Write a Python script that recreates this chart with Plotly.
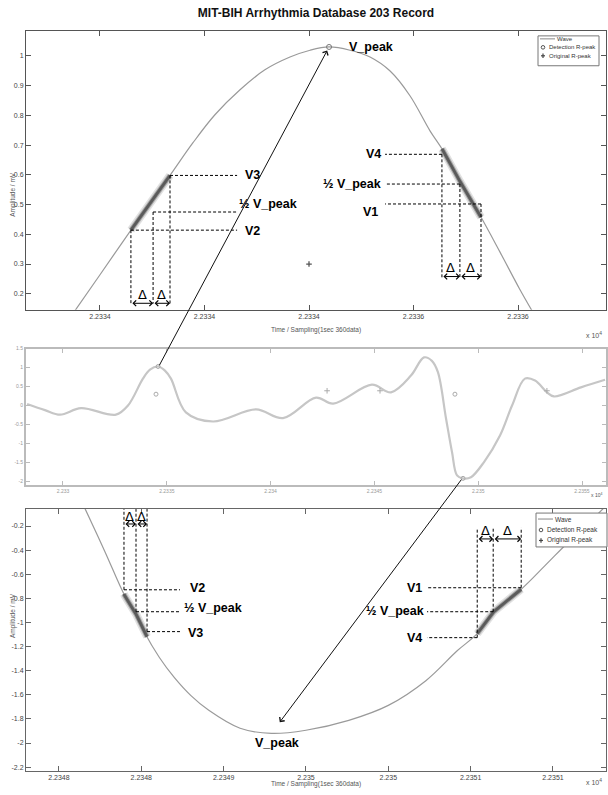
import numpy as np
import plotly.graph_objects as go

W, H = 608, 795

# ---------------- data ----------------
# Zoomed view of the positive R peak (samples, mV)
top_t = [22333.380, 22333.500, 22333.648, 22333.739, 22333.835, 22333.945, 22334.050,
         22334.170, 22334.289, 22334.409, 22334.505, 22334.596, 22334.696, 22334.792,
         22334.888, 22334.983, 22335.079, 22335.141, 22335.222, 22335.318, 22335.414,
         22335.507, 22335.567]
top_v = [0.143, 0.264, 0.414, 0.504, 0.598, 0.708, 0.802, 0.886, 0.953, 0.996, 1.019,
         1.030, 1.019, 0.996, 0.949, 0.866, 0.748, 0.682, 0.578, 0.464, 0.340, 0.217, 0.143]

# Overview of the record segment
mid_t = [22328.27, 22329.13, 22329.86, 22330.87, 22332.55, 22333.13, 22333.85, 22334.19,
         22334.58, 22334.91, 22335.20, 22335.92, 22337.23, 22339.30, 22340.60, 22342.19,
         22343.01, 22344.88, 22345.80, 22346.76, 22347.39, 22347.77, 22348.06, 22348.45,
         22348.74, 22348.98, 22349.27, 22349.65, 22350.28, 22351.05, 22351.63, 22352.25,
         22352.74, 22353.31, 22353.65, 22354.95, 22356.11]
mid_v = [0.04, -0.12, -0.24, -0.07, -0.24, 0.00, 0.71, 0.95, 1.03, 0.92, 0.71, -0.18,
         -0.42, -0.10, -0.33, 0.21, 0.05, 0.55, 0.35, 0.79, 1.27, 1.18, 0.88, -0.34,
         -1.23, -1.84, -1.92, -1.89, -1.49, -0.79, 0.00, 0.71, 0.66, 0.35, 0.24, 0.48, 0.68]

# Zoomed view of the negative R peak
bot_t = [22348.11, 22348.16, 22348.28, 22348.40, 22348.47, 22348.52, 22348.61, 22348.70,
         22348.80, 22348.91, 22349.10, 22349.29, 22349.50, 22349.76, 22350.00, 22350.23,
         22350.42, 22350.54, 22350.64, 22350.81, 22350.95, 22351.10, 22351.26, 22351.38]
bot_v = [0.089, -0.060, -0.415, -0.779, -0.936, -1.084, -1.291, -1.456, -1.605, -1.729,
         -1.878, -1.920, -1.894, -1.812, -1.688, -1.481, -1.233, -1.093, -0.911, -0.721,
         -0.531, -0.324, -0.117, 0.050]

# R-peak positions
top_detect = (22334.596, 1.03)
top_original = (22334.5, 0.30)
bot_detect = (22349.29, -1.92)
mid_detect_t = [22334.58, 22349.27]
mid_detect_v = [1.03, -1.92]
mid_original_t = [22334.48, 22348.88]
mid_original_v = [0.30, 0.30]
mid_other_t = [22342.72, 22345.27, 22353.31]
mid_other_v = [0.39, 0.39, 0.39]

# Slope reference points (V2, 1/2 V_peak, V3 / V4, 1/2 V_peak, V1)
top_rise_names = ["V2", "½ V_peak", "V3"]
top_rise_t = [22333.648, 22333.754, 22333.835]
top_rise_v = [0.414, 0.475, 0.598]
top_fall_names = ["V4", "½ V_peak", "V1"]
top_fall_t = [22335.136, 22335.222, 22335.323]
top_fall_v = [0.669, 0.569, 0.502]
bot_fall_names = ["V2", "½ V_peak", "V3"]
bot_fall_t = [22348.395, 22348.468, 22348.535]
bot_fall_v = [-0.729, -0.911, -1.076]
bot_rise_names = ["V4", "½ V_peak", "V1"]
bot_rise_t = [22350.540, 22350.637, 22350.807]
bot_rise_v = [-1.126, -0.911, -0.712]

# Tick labels (x 10^4 samples)
top_xticks = [22333.5, 22334.0, 22334.5, 22335.0, 22335.5]
top_xlabels = ["2.2334", "2.2334", "2.2334", "2.2336", "2.2336"]
mid_xticks = [22330, 22335, 22340, 22345, 22350, 22355]
mid_xlabels = ["2.233", "2.2335", "2.234", "2.2345", "2.235", "2.2355"]
bot_xticks = [22348.0, 22348.5, 22349.0, 22349.5, 22350.0, 22350.5, 22351.0]
bot_xlabels = ["2.2348", "2.2348", "2.2349", "2.235", "2.235", "2.2351", "2.2351"]
top_yticks = [0.2, 0.3, 0.4, 0.5, 0.6, 0.7, 0.8, 0.9, 1.0]
top_ylabels = ["0.2", "0.3", "0.4", "0.5", "0.6", "0.7", "0.8", "0.9", "1"]
mid_yticks = [-2, -1.5, -1, -0.5, 0, 0.5, 1, 1.5]
mid_ylabels = ["-2", "-1.5", "-1", "-0.5", "0", "0.5", "1", "1.5"]
bot_yticks = [-2.2, -2.0, -1.8, -1.6, -1.4, -1.2, -1.0, -0.8, -0.6, -0.4, -0.2]
bot_ylabels = ["-2.2", "-2", "-1.8", "-1.6", "-1.4", "-1.2", "-1", "-0.8", "-0.6", "-0.4", "-0.2"]

legend_names = ["Wave", "Detection R-peak", "Original R-peak"]

# ---------------- layout geometry ----------------
X_DOM = [26 / W, 606 / W]
PANELS = {
    "top": dict(xa="x", ya="y", xdom=X_DOM, ydom=[1 - 308 / H, 1 - 28 / H],
                xr=[22333.146, 22335.921], yr=[0.146, 1.084]),
    "mid": dict(xa="x2", ya="y2", xdom=X_DOM, ydom=[1 - 484 / H, 1 - 347 / H],
                xr=[22328.218, 22356.156], yr=[-2.10, 1.50]),
    "bot": dict(xa="x3", ya="y3", xdom=X_DOM, ydom=[1 - 771 / H, 1 - 508 / H],
                xr=[22347.80, 22351.322], yr=[-2.233, -0.0595]),
}


def to_px(panel, x, y):
    p = PANELS[panel]
    fx = (x - p["xr"][0]) / (p["xr"][1] - p["xr"][0])
    fy = (y - p["yr"][0]) / (p["yr"][1] - p["yr"][0])
    px = W * (p["xdom"][0] + fx * (p["xdom"][1] - p["xdom"][0]))
    py = H * (1 - (p["ydom"][0] + fy * (p["ydom"][1] - p["ydom"][0])))
    return px, py


LABEL_FONT = "Liberation Sans Narrow, Liberation Sans, Arial, sans-serif"
TICK_FONT = "Liberation Sans Narrow, Liberation Sans, Arial, sans-serif"
LABEL_SIZE = 12.5

fig = go.Figure()


def wave(panel, t, v, color, width):
    p = PANELS[panel]
    fig.add_trace(go.Scatter(
        x=t, y=v, mode="lines", name="Wave", xaxis=p["xa"], yaxis=p["ya"],
        line=dict(color=color, width=width, shape="spline", smoothing=1.0),
        showlegend=False, hoverinfo="skip"))


def slope_band(panel, t, v, t0, t1):
    """Highlight the part of the wave between two reference samples."""
    p = PANELS[panel]
    t = np.asarray(t)
    inner = t[(t > t0) & (t < t1)]
    xs = np.concatenate([[t0], inner, [t1]])
    ys = np.interp(xs, t, v)
    for w, c in ((8, "rgba(120,120,120,0.22)"), (5, "rgba(110,110,110,0.5)"), (3, "rgba(85,85,85,0.9)")):
        fig.add_trace(go.Scatter(x=xs, y=ys, mode="lines", xaxis=p["xa"], yaxis=p["ya"],
                                 line=dict(color=c, width=w), showlegend=False, hoverinfo="skip"))


# top panel
wave("top", top_t, top_v, "#9a9a9a", 1.2)
slope_band("top", top_t, top_v, top_rise_t[0], top_rise_t[-1])
slope_band("top", top_t, top_v, top_fall_t[0], top_fall_t[-1])
fig.add_trace(go.Scatter(x=[top_detect[0]], y=[top_detect[1]], mode="markers", name="Detection R-peak",
                         xaxis="x", yaxis="y", showlegend=False,
                         marker=dict(symbol="circle-open", size=5, color="#777", line=dict(width=1))))
fig.add_trace(go.Scatter(x=[top_original[0]], y=[top_original[1]], mode="markers", name="Original R-peak",
                         xaxis="x", yaxis="y", showlegend=False,
                         marker=dict(symbol="cross-thin-open", size=4, color="#555", line=dict(width=1.3, color="#555"))))

# middle panel
wave("mid", mid_t, mid_v, "#c6c6c6", 2.2)
fig.add_trace(go.Scatter(x=mid_detect_t, y=mid_detect_v, mode="markers", xaxis="x2", yaxis="y2",
                         marker=dict(symbol="circle-open", size=4, color="#aaa", line=dict(width=1)),
                         showlegend=False))
fig.add_trace(go.Scatter(x=mid_original_t, y=mid_original_v, mode="markers", xaxis="x2", yaxis="y2",
                         marker=dict(symbol="circle-open", size=4, color="#aaa", line=dict(width=1)),
                         showlegend=False))
fig.add_trace(go.Scatter(x=mid_other_t, y=mid_other_v, mode="markers", xaxis="x2", yaxis="y2",
                         marker=dict(symbol="cross-thin-open", size=4, color="#aaa", line=dict(width=1, color="#aaa")),
                         showlegend=False))

# bottom panel
wave("bot", bot_t, bot_v, "#9a9a9a", 1.2)
slope_band("bot", bot_t, bot_v, bot_fall_t[0], bot_fall_t[-1])
slope_band("bot", bot_t, bot_v, bot_rise_t[0], bot_rise_t[-1])

# ---------------- guide lines and labels ----------------
DASH = dict(color="black", width=1, dash="3px,2px")
LBL = dict(family=LABEL_FONT, size=LABEL_SIZE, color="black", weight="bold")


def guides(panel, names, ts, vs, label_t, label_side, vert_end, arrow_y, delta_y, shifts):
    p = PANELS[panel]
    for name, t, v, (dx, dy) in zip(names, ts, vs, shifts):
        fig.add_shape(type="line", xref=p["xa"], yref=p["ya"], x0=t, x1=label_t, y0=v, y1=v, line=DASH)
        fig.add_shape(type="line", xref=p["xa"], yref=p["ya"], x0=t, x1=t, y0=v, y1=vert_end, line=DASH)
        fig.add_annotation(xref=p["xa"], yref=p["ya"], x=label_t, y=v, text=name, showarrow=False,
                           xanchor="left" if label_side == "right" else "right", yanchor="middle",
                           xshift=dx, yshift=dy, font=LBL)
    st = sorted(ts)
    for a, b in zip(st[:-1], st[1:]):
        fig.add_annotation(xref=p["xa"], yref=p["ya"], axref=p["xa"], ayref=p["ya"],
                           x=b, y=arrow_y, ax=a, ay=arrow_y, text="", showarrow=True,
                           arrowside="end+start", arrowhead=4, startarrowhead=4,
                           arrowsize=1.1, startarrowsize=1.1, arrowwidth=1, arrowcolor="black")
        fig.add_annotation(xref=p["xa"], yref=p["ya"], x=(a + b) / 2, y=delta_y, text="Δ",
                           showarrow=False, font=dict(family="DejaVu Sans", size=13, color="black"))


guides("top", top_rise_names, top_rise_t, top_rise_v, 22334.156, "right", 0.167, 0.168, 0.198,
       [(6, -1), (0, 8), (6, 0)])
guides("top", top_fall_names, top_fall_t, top_fall_v, 22334.864, "left", 0.250, 0.258, 0.287,
       [(-2, 0), (-2, 0), (-5, -8)])
guides("bot", bot_fall_names, bot_fall_t, bot_fall_v, 22348.735, "right", PANELS["bot"]["yr"][1], -0.183, -0.117,
       [(8, 2), (2, 4), (6, -1)])
guides("bot", bot_rise_names, bot_rise_t, bot_rise_v, 22350.235, "left", -0.214, -0.307, -0.241,
       [(-3, 0), (-1, 1), (-3, 0)])

# V_peak labels
fig.add_annotation(xref="x", yref="y", x=top_detect[0], y=top_detect[1], text="V_peak", showarrow=False,
                   xanchor="left", yanchor="middle", xshift=18, yshift=0, font=LBL)
fig.add_annotation(xref="x3", yref="y3", x=bot_detect[0], y=bot_detect[1], text="V_peak", showarrow=False,
                   xanchor="center", yanchor="top", xshift=6, yshift=-1, font=LBL)

# long arrows linking the overview peaks with the zoomed views
hx, hy = to_px("top", *top_detect)
tx, ty = to_px("mid", mid_detect_t[0], mid_detect_v[0])
fig.add_annotation(xref="x", yref="y", x=top_detect[0], y=top_detect[1], ax=tx - hx, ay=ty - hy,
                   text="", showarrow=True, arrowhead=4, arrowsize=1.2, arrowwidth=1, arrowcolor="#111",
                   standoff=4, startstandoff=1)
hx, hy = to_px("bot", *bot_detect)
tx, ty = to_px("mid", mid_detect_t[1], mid_detect_v[1])
fig.add_annotation(xref="x3", yref="y3", x=bot_detect[0], y=bot_detect[1], ax=tx - hx, ay=ty - hy,
                   text="", showarrow=True, arrowhead=4, arrowsize=1.2, arrowwidth=1, arrowcolor="#111",
                   standoff=14, startstandoff=1)

# axis titles and exponent markers
SMALL = dict(family=TICK_FONT, size=6.5, color="#555")
for yc in (1 - 168 / H, 1 - 640 / H):
    fig.add_annotation(xref="paper", yref="paper", x=7 / W, y=yc, text="Amplitude / mV", textangle=-90,
                       showarrow=False, font=SMALL)
for yy in (328, 790):
    fig.add_annotation(xref="paper", yref="paper", x=316 / W, y=1 - yy / H,
                       text="Time / Sampling(1sec 360data)", showarrow=False, font=SMALL)
for yy, size in ((333, 7), (494, 5), (788, 7)):
    fig.add_annotation(xref="paper", yref="paper", x=604 / W, y=1 - yy / H, text="x 10<sup>4</sup>",
                       showarrow=False, xanchor="right", font=dict(family=TICK_FONT, size=size, color="#555"))


# legend boxes (MATLAB style, compact)
def pshape(kind, x0, y0, x1, y1, **kw):
    fig.add_shape(type=kind, xref="paper", yref="paper", x0=x0 / W, x1=x1 / W, y0=1 - y0 / H, y1=1 - y1 / H,
                  layer="above", **kw)


def legend_box(x0, y0, x1, y1, row_y, fsize):
    pshape("rect", x0, y0, x1, y1, line=dict(color="#777", width=1), fillcolor="white")
    sym = dict(color="#555", width=1)
    cx = x0 + 5
    for name, ry, kind in zip(legend_names, row_y, ("line", "circle", "plus")):
        if kind == "line":
            pshape("line", x0 + 2, ry, x0 + 17, ry, line=dict(color="#888", width=1))
            tx0 = x0 + 18
        elif kind == "circle":
            pshape("circle", cx - 1.8, ry - 1.8, cx + 1.8, ry + 1.8, line=sym)
            tx0 = x0 + 10
        else:
            pshape("line", cx - 2, ry, cx + 2, ry, line=dict(color="#444", width=1.2))
            pshape("line", cx, ry - 2.2, cx, ry + 2.2, line=dict(color="#444", width=1.2))
            tx0 = x0 + 10
        fig.add_annotation(xref="paper", yref="paper", x=tx0 / W, y=1 - ry / H, text=name, showarrow=False,
                           xanchor="left", yanchor="middle", borderpad=0,
                           font=dict(family=TICK_FONT, size=fsize, color="#333"))


legend_box(538, 33, 599, 63, (36, 44.5, 53), 6)
legend_box(536, 512, 607, 546, (518, 529, 539.5), 6.5)


def axis(panel, which, vals, labels, fsize, fcolor, lcolor, tlen, lwidth=1):
    p = PANELS[panel]
    if which == "x":
        dom, rng, anchor = p["xdom"], p["xr"], p["ya"]
    else:
        dom, rng, anchor = p["ydom"], p["yr"], p["xa"]
    return dict(domain=dom, range=rng, anchor=anchor, tickmode="array", tickvals=vals, ticktext=labels,
                ticks="inside", ticklen=tlen, tickcolor=lcolor, tickwidth=1, showline=True, linecolor=lcolor,
                linewidth=lwidth, mirror="allticks", showgrid=False, zeroline=False,
                tickfont=dict(family=TICK_FONT, size=fsize, color=fcolor))


fig.update_layout(
    width=W, height=H, margin=dict(l=0, r=0, t=0, b=0),
    paper_bgcolor="white", plot_bgcolor="white", showlegend=False,
    title=dict(text="<b>MIT-BIH Arrhythmia Database 203 Record</b>", x=316 / W, xanchor="center",
               y=1 - 13 / H, yanchor="middle", font=dict(family=LABEL_FONT, size=12, color="#111")),
    xaxis=axis("top", "x", top_xticks, top_xlabels, 7, "#444", "#555", 5),
    yaxis=axis("top", "y", top_yticks, top_ylabels, 7, "#444", "#555", 5),
    xaxis2=axis("mid", "x", mid_xticks, mid_xlabels, 5, "#999", "#bbb", 4, 2),
    yaxis2=axis("mid", "y", mid_yticks, mid_ylabels, 5, "#999", "#bbb", 4, 2),
    xaxis3=axis("bot", "x", bot_xticks, bot_xlabels, 7, "#444", "#666", 5),
    yaxis3=axis("bot", "y", bot_yticks, bot_ylabels, 7, "#444", "#666", 5),
)

fig.write_html("out.html")
